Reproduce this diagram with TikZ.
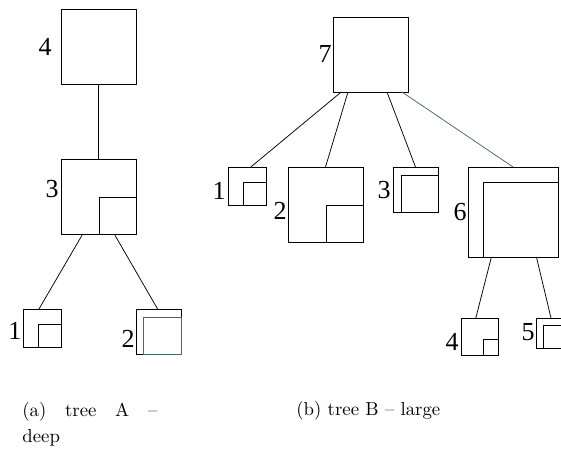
\documentclass[tikz,border=0pt]{standalone}
\usepackage{fontspec}
\newfontfamily\numfont{Liberation Serif}
\newfontfamily\capfont[Ligatures=TeX]{lmroman10-regular.otf}
\usetikzlibrary{calc}
\definecolor{tealgray}{RGB}{70,105,100}
\begin{document}
\begin{tikzpicture}[x=1pt,y=-1pt,
  box/.style={draw, minimum size=#1, inner sep=0pt, outer sep=0pt, anchor=north west},
  num/.style={font=\numfont\fontsize{26}{26}\selectfont, inner sep=0pt},
  captext/.style={font=\capfont\fontsize{18.8}{23}\selectfont, inner sep=0pt, anchor=base west},
  line width=0.75pt]
\useasboundingbox (0,0) rectangle (561,455);
\clip (0,0) rectangle (561,455);
% tree A
\node[box=75] (a4) at (61,9) {};
\node[box=75] (a3) at (61,159) {};
\node[box=38] (a1) at (23,309) {};
\node[box=45] (a2) at (136,309) {};
% tree B
\node[box=75] (b7) at (333,17) {};
\node[box=38] (b1) at (228,167) {};
\node[box=75] (b2) at (288,167) {};
\node[box=45] (b3) at (393,167) {};
\node[box=90] (b6) at (468,167) {};
\node[box=37] (b4) at (461,318) {};
\node[box=30] (b5) at (536,318) {};
% inner squares
\draw (a3.south east) rectangle ++(-37,-37);
\draw (a1.south east) rectangle ++(-23,-23);
\draw[tealgray] (a2.south east) rectangle ++(-38,-37);
\draw (b1.south east) rectangle ++(-23,-23);
\draw (b2.south east) rectangle ++(-37,-37);
\draw (b3.south east) rectangle ++(-37,-37);
\draw (b6.south east) rectangle ++(-75,-75);
\draw (b4.south east) rectangle ++(-15,-16);
\draw (b5.south east) rectangle ++(-23,-23);
% edges
\draw (a4.south) -- (a3.north);
\draw ($(a3.south west)!0.29!(a3.south east)$) -- ($(a1.north west)!0.42!(a1.north east)$);
\draw ($(a3.south west)!0.71!(a3.south east)$) -- ($(a2.north west)!0.48!(a2.north east)$);
\draw ($(b7.south west)!0.11!(b7.south east)$) -- ($(b1.north west)!0.6!(b1.north east)$);
\draw ($(b7.south west)!0.2!(b7.south east)$) -- (b2.north);
\draw ($(b7.south west)!0.72!(b7.south east)$) -- (b3.north);
\draw[tealgray] ($(b7.south west)!0.92!(b7.south east)$) -- (b6.north);
\draw ($(b6.south west)!0.26!(b6.south east)$) -- ($(b4.north west)!0.4!(b4.north east)$);
\draw ($(b6.south west)!0.76!(b6.south east)$) -- (b5.north);
% labels
\node[num] (la4) at (45,47) {4};
\node[num] (la3) at (52,189) {3};
\node[num] (la1) at (15,331) {1};
\node[num] (la2) at (128,339) {2};
\node[num] (lb7) at (325,54) {7};
\node[num] (lb1) at (219,191) {1};
\node[num] (lb2) at (280,211) {2};
\node[num] (lb3) at (384,190) {3};
\node[num] (lb6) at (460,212) {6};
\node[num] (lb4) at (452,342) {4};
\node[num] (lb5) at (528,332) {5};
% captions
\node[captext] (capa) at (22,416) {\makebox[135pt][s]{(a) tree A --}};
\node[captext] (capa2) at (22,442) {deep};
\node[captext] (capb) at (296,415) {(b) tree B -- large};
\end{tikzpicture}
\end{document}
